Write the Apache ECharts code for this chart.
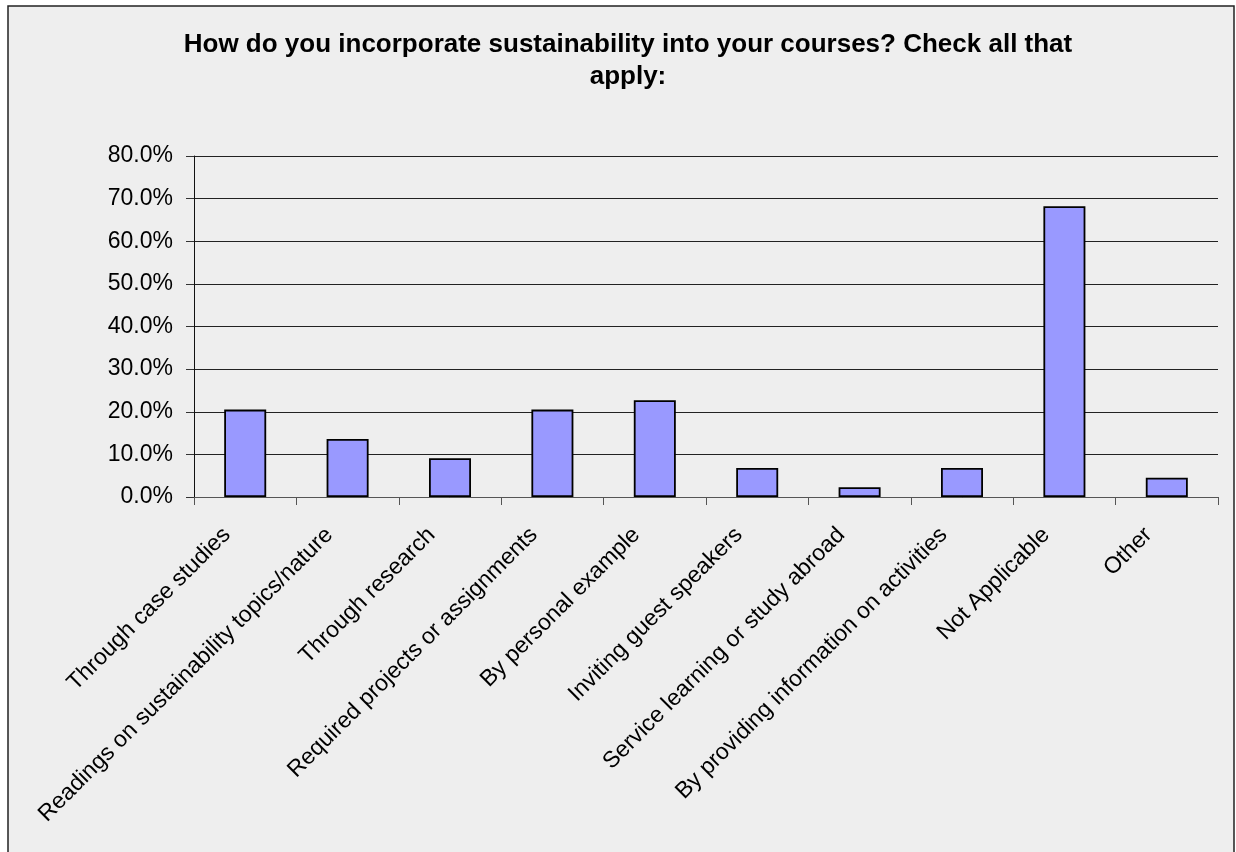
<!DOCTYPE html>
<html>
<head>
<meta charset="utf-8">
<script src="https://cdn.jsdelivr.net/npm/echarts@6/dist/echarts.min.js"></script>
<style>
  html, body { margin: 0; padding: 0; background: #ffffff; }
  #chart { width: 1236px; height: 852px; }
</style>
</head>
<body>
<div id="chart"></div>
<script>
const chartTitle = 'How do you incorporate sustainability into your courses? Check all that\napply:';
const categories = [
  'Through case studies',
  'Readings on sustainability topics/nature',
  'Through research',
  'Required projects or assignments',
  'By personal example',
  'Inviting guest speakers',
  'Service learning or study abroad',
  'By providing information on activities',
  'Not Applicable',
  'Other'
];
const percentValues = [20.5, 13.6, 9.1, 20.5, 22.7, 6.8, 2.3, 6.8, 68.2, 4.5];
const yMin = 0;
const yMax = 80;
const yStep = 10;

const chart = echarts.init(document.getElementById('chart'), null, { renderer: 'canvas' });
const font = '"Liberation Sans", Arial, sans-serif';

chart.setOption({
  backgroundColor: '#ffffff',
  animation: false,
  graphic: [{
    type: 'rect',
    z: -10,
    silent: true,
    shape: { x: 8, y: 6, width: 1226, height: 900 },
    style: { fill: '#eeeeee', stroke: '#222222', lineWidth: 1.5 }
  }],
  title: {
    text: chartTitle,
    left: 623,
    top: 24,
    textAlign: 'center',
    textStyle: {
      fontFamily: font,
      fontSize: 26,
      fontWeight: 'bold',
      color: '#000000',
      lineHeight: 32
    }
  },
  grid: { left: 194, right: 18, top: 156, bottom: 355, containLabel: false },
  xAxis: {
    type: 'category',
    data: categories,
    boundaryGap: true,
    axisLine: { lineStyle: { color: '#555555', width: 1 } },
    axisTick: { show: true, length: 8, inside: false, alignWithLabel: false, lineStyle: { color: '#555555', width: 1 } },
    axisLabel: {
      interval: 0,
      rotate: 45,
      margin: 16,
      padding: [0, 26, 0, 0],
      fontFamily: font,
      fontSize: 23,
      color: '#000000'
    },
    splitLine: { show: false }
  },
  yAxis: {
    type: 'value',
    min: yMin,
    max: yMax,
    interval: yStep,
    axisLine: { show: true, lineStyle: { color: '#111111', width: 1 } },
    axisTick: { show: true, length: 8, inside: false, lineStyle: { color: '#333333', width: 1 } },
    axisLabel: {
      margin: 21,
      fontFamily: font,
      fontSize: 23,
      color: '#000000',
      formatter: v => v.toFixed(1) + '%'
    },
    splitLine: { show: true, lineStyle: { color: '#222222', width: 1 } }
  },
  series: [{
    type: 'bar',
    data: percentValues,
    barWidth: 42,
    itemStyle: { color: '#9999ff', borderColor: '#000000', borderWidth: 1.8 }
  }]
});
</script>
</body>
</html>
